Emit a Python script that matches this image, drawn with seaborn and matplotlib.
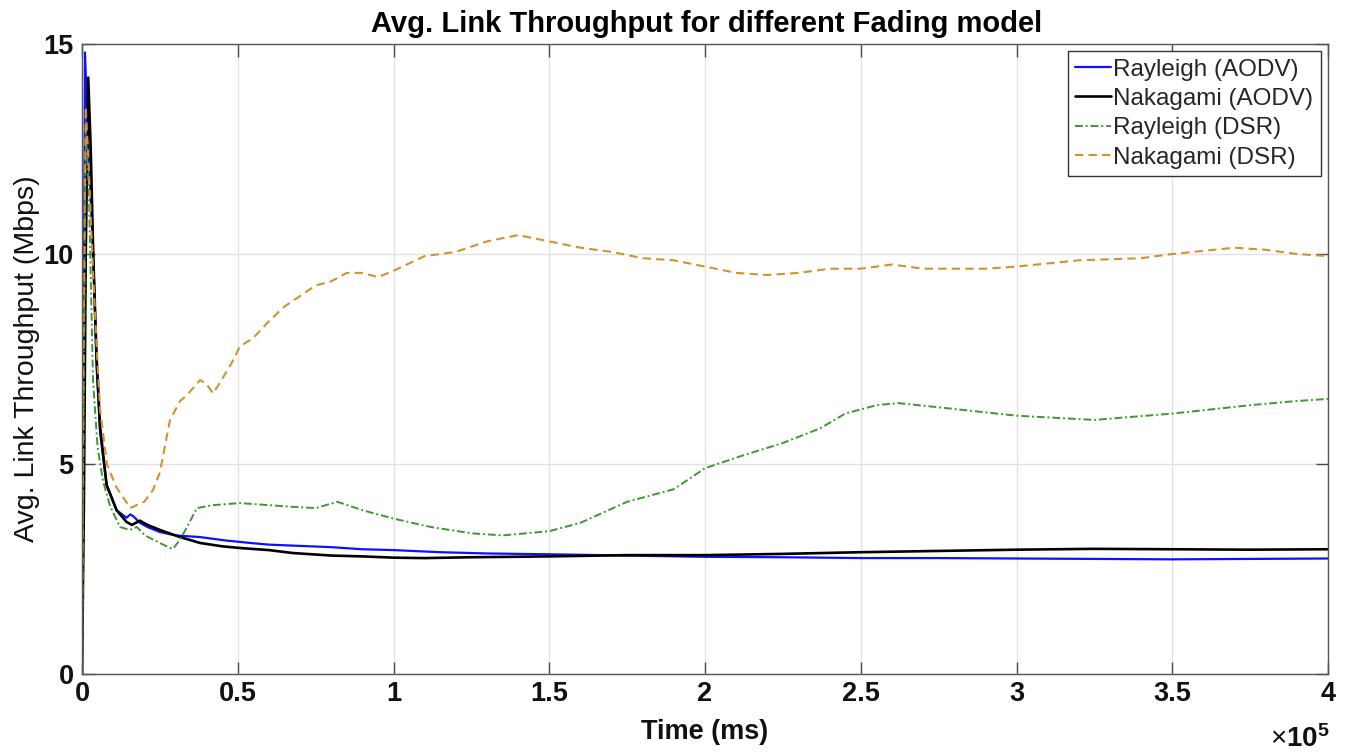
import numpy as np
import pandas as pd
import matplotlib
matplotlib.use("Agg")
import matplotlib.pyplot as plt
from matplotlib import font_manager
import seaborn as sns

# ---- data: time in ms, throughput in Mbps ----
t_ray_aodv = [0, 300, 960, 1800, 2700, 3600, 4700, 5800, 7900, 11100, 14300, 15500, 16400,
              18600, 21000, 25000, 30000, 37900, 42000, 46000, 54000, 60000, 70000, 80000,
              90000, 100000, 115000, 130000, 150000, 175000, 200000, 225000, 250000,
              275000, 300000, 325000, 350000, 375000, 400000]
v_ray_aodv = [0, 4.0, 14.8, 13.0, 11.5, 10.0, 7.3, 5.75, 4.5, 3.9, 3.72, 3.8, 3.76,
              3.6, 3.5, 3.38, 3.3, 3.26, 3.22, 3.18, 3.12, 3.08, 3.05, 3.02,
              2.97, 2.95, 2.9, 2.87, 2.85, 2.82, 2.79, 2.78, 2.76,
              2.76, 2.75, 2.74, 2.73, 2.74, 2.75]

t_nak_aodv = [0, 600, 1200, 2000, 2800, 3600, 4700, 5800, 7900, 11100, 14300, 16000, 18600,
              21000, 25000, 31500, 37900, 45000, 50700, 60000, 67700, 80000, 90000, 100000,
              110000, 125000, 150000, 175000, 200000, 225000, 250000, 275000, 300000,
              325000, 350000, 375000, 400000]
v_nak_aodv = [0, 4.0, 10.0, 14.2, 12.5, 10.0, 7.5, 5.9, 4.5, 3.9, 3.62, 3.55, 3.65,
              3.55, 3.43, 3.26, 3.12, 3.04, 3.0, 2.95, 2.88, 2.82, 2.8, 2.77,
              2.76, 2.78, 2.8, 2.83, 2.83, 2.86, 2.9, 2.93, 2.96,
              2.98, 2.97, 2.96, 2.97]

t_ray_dsr = [0, 500, 1200, 2200, 3530, 5000, 6740, 9000, 12200, 15400, 17600, 20200, 25000,
             28250, 29200, 31500, 33700, 36900, 42000, 50700, 60000, 67700, 75000, 82000,
             90000, 100000, 112000, 125000, 135000, 150000, 160000, 175000, 190000, 200000,
             212000, 225000, 237000, 245000, 255000, 262000, 275000, 300000, 325000,
             350000, 375000, 390000, 400000]
v_ray_dsr = [0, 6.0, 13.0, 11.5, 7.0, 5.4, 4.6, 4.0, 3.5, 3.43, 3.5, 3.3, 3.12,
             3.0, 2.98, 3.2, 3.5, 3.95, 4.02, 4.07, 4.02, 3.98, 3.95, 4.1,
             3.9, 3.7, 3.5, 3.35, 3.3, 3.4, 3.6, 4.1, 4.4, 4.9,
             5.2, 5.5, 5.85, 6.2, 6.4, 6.45, 6.35, 6.15, 6.05,
             6.2, 6.4, 6.5, 6.55]

t_nak_dsr = [0, 500, 1200, 2200, 3600, 4700, 5800, 8000, 11000, 14450, 15400, 17000, 18600,
             20000, 22800, 25000, 28250, 31500, 33700, 37900, 40000, 42050, 44000, 48000,
             50700, 55000, 60000, 65000, 70000, 75000, 80000, 85000, 90000, 95000, 100000,
             110000, 120000, 130000, 140000, 150000, 160000, 170000, 180000, 190000, 200000,
             210000, 220000, 230000, 240000, 250000, 260000, 270000, 280000, 290000, 300000,
             320000, 340000, 350000, 370000, 380000, 390000, 400000]
v_nak_dsr = [0, 8.0, 13.5, 12.0, 9.5, 7.8, 6.3, 5.0, 4.45, 4.07, 3.95, 4.0, 4.07,
             4.1, 4.38, 4.8, 6.05, 6.5, 6.64, 7.0, 6.9, 6.68, 6.9, 7.4,
             7.8, 8.0, 8.4, 8.75, 9.0, 9.25, 9.35, 9.55, 9.55, 9.45, 9.6,
             9.95, 10.05, 10.3, 10.45, 10.3, 10.15, 10.05, 9.9, 9.85, 9.7,
             9.55, 9.5, 9.55, 9.65, 9.65, 9.75, 9.65, 9.65, 9.65, 9.7,
             9.85, 9.9, 10.0, 10.15, 10.1, 10.0, 9.95]

series_labels = ["Rayleigh (AODV)", "Nakagami (AODV)", "Rayleigh (DSR)", "Nakagami (DSR)"]
x_ticks = [0, 50000, 100000, 150000, 200000, 250000, 300000, 350000, 400000]
x_tick_labels = ["0", "0.5", "1", "1.5", "2", "2.5", "3", "3.5", "4"]
y_ticks = [0, 5, 10, 15]

# ---- styling ----
sns.set_theme(style="whitegrid")
plt.rcParams["font.family"] = ["Liberation Sans", "DejaVu Sans"]
plt.rcParams["mathtext.fontset"] = "custom"
plt.rcParams["mathtext.rm"] = "Liberation Sans"
plt.rcParams["mathtext.bf"] = "Liberation Sans:bold"

installed = {f.name for f in font_manager.fontManager.ttflist}
narrow = "Liberation Sans Narrow" in installed
title_family = "Liberation Sans Narrow" if narrow else "Liberation Sans"

fig = plt.figure(figsize=(13.46, 7.53), dpi=100)
ax = fig.add_axes([82 / 1346, 1 - 674 / 753, 1246 / 1346, 630 / 753])
ax.set_facecolor("white")

styles = [
    dict(color="#1010ff", lw=1.6, linestyle="-"),
    dict(color="#000000", lw=1.9, linestyle="-"),
    dict(color="#3c9a2c", lw=1.4, linestyle=(0, (4, 1.5, 1, 1.5))),
    dict(color="#d4922e", lw=1.5, linestyle=(0, (4, 2.5))),
]
data = [(t_ray_aodv, v_ray_aodv), (t_nak_aodv, v_nak_aodv),
        (t_ray_dsr, v_ray_dsr), (t_nak_dsr, v_nak_dsr)]

for (t, v), lab, st in zip(data, series_labels, styles):
    df = pd.DataFrame({"t": t, "v": v})
    sns.lineplot(data=df, x="t", y="v", ax=ax, label=lab, sort=False,
                 estimator=None, **st)

ax.set_xlim(0, 400000)
ax.set_ylim(0, 15)
ax.set_xticks(x_ticks)
ax.set_xticklabels(x_tick_labels)
ax.set_yticks(y_ticks)
ax.set_yticklabels([str(y) for y in y_ticks])

for lab in ax.get_xticklabels() + ax.get_yticklabels():
    lab.set_fontweight("bold")
ax.tick_params(axis="both", which="major", direction="in", length=9, width=1.0,
               color="#4a4a4a", labelsize=19.5, labelcolor="#111111",
               top=True, right=True, bottom=True, left=True)
ax.tick_params(axis="x", pad=5)
ax.tick_params(axis="y", pad=6)

ax.grid(True, color="#e2e2e2", lw=1.0)
for s in ax.spines.values():
    s.set_visible(True)
    s.set_color("#555555")
    s.set_linewidth(1.0)

ax.set_xlabel("Time (ms)", fontsize=19.5, fontweight="bold", color="#111111")
ax.set_ylabel("Avg. Link Throughput (Mbps)", fontsize=20.5, color="#111111")
ax.xaxis.set_label_coords(0.5, -0.072)
ax.yaxis.set_label_coords(-0.034, 0.5)

ax.text(1.0016, -0.103, r"$\times\mathbf{10^{5}}$", transform=ax.transAxes,
        ha="right", va="center", fontsize=20, color="#111111")

fig.text(707 / 1346, 1 - 24 / 753, "Avg. Link Throughput for different Fading model",
         ha="center", va="center", fontsize=24 if narrow else 21,
         fontweight="bold", family=title_family, color="#000000")

leg = ax.legend(loc="upper right", fontsize=17.5, frameon=True, fancybox=False,
                handlelength=1.45, handletextpad=0.12, borderpad=0.3,
                labelspacing=0.3, borderaxespad=0.3)
leg.get_frame().set_edgecolor("#333333")
leg.get_frame().set_linewidth(1.0)
leg.get_frame().set_alpha(1.0)

fig.savefig("out.png", dpi=100, facecolor="white")
